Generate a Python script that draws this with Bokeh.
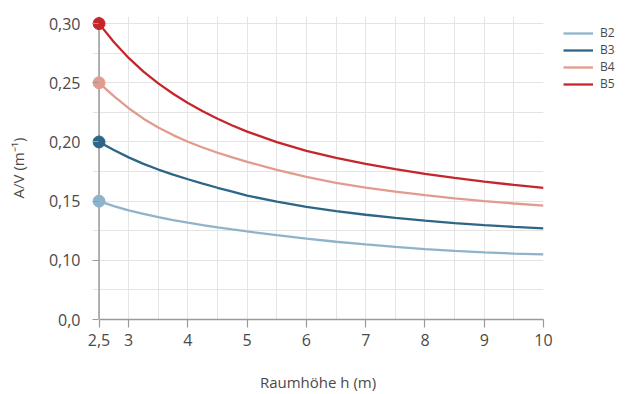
from bokeh.plotting import figure
from bokeh.models import FixedTicker, Legend, LegendItem, Range1d, Span
from bokeh.embed import file_html
from bokeh.resources import INLINE

# data
h = [2.5, 2.75, 3, 3.25, 3.5, 3.75, 4, 4.25, 4.5, 4.75, 5, 5.5, 6, 6.5, 7, 7.5, 8, 8.5, 9, 9.5, 10]
b2 = [0.1500, 0.1458, 0.1422, 0.1392, 0.1365, 0.1340, 0.1318, 0.1298, 0.1279, 0.1261, 0.1244,
      0.1212, 0.1183, 0.1157, 0.1134, 0.1113, 0.1095, 0.1080, 0.1067, 0.1057, 0.1050]
b3 = [0.2000, 0.1932, 0.1870, 0.1815, 0.1767, 0.1724, 0.1685, 0.1648, 0.1613, 0.1580, 0.1547,
      0.1495, 0.1452, 0.1415, 0.1385, 0.1358, 0.1335, 0.1315, 0.1298, 0.1283, 0.1270]
b4 = [0.2500, 0.2387, 0.2285, 0.2197, 0.2122, 0.2058, 0.2002, 0.1953, 0.1909, 0.1869, 0.1832,
      0.1765, 0.1705, 0.1655, 0.1614, 0.1580, 0.1550, 0.1524, 0.1501, 0.1480, 0.1462]
b5 = [0.3000, 0.2845, 0.2710, 0.2595, 0.2495, 0.2407, 0.2329, 0.2259, 0.2196, 0.2139, 0.2087,
      0.1998, 0.1925, 0.1865, 0.1814, 0.1770, 0.1731, 0.1696, 0.1665, 0.1637, 0.1612]
series_names = ["B2", "B3", "B4", "B5"]
series_colors = ["#8fb3cb", "#2d6687", "#e19c8e", "#c4272b"]

x_ticks = [2.5, 3, 4, 5, 6, 7, 8, 9, 10]
x_tick_labels = ["2,5", "3", "4", "5", "6", "7", "8", "9", "10"]
y_ticks = [0.05, 0.10, 0.15, 0.20, 0.25, 0.30]
y_tick_labels = ["0,0", "0,10", "0,15", "0,20", "0,25", "0,30"]
x_grid = [2.5 + 0.5 * i for i in range(16)]
y_grid = [0.05 + 0.025 * i for i in range(11)]
x_title = "Raumhöhe h (m)"
y_title = "A/V (m⁻¹)"

FONT = "Open Sans"
TXT = "#4a4a4a"
AXC = "#9a9a9a"

p = figure(width=636, height=392, output_backend="svg", toolbar_location=None,
           x_range=Range1d(2.39, 10.0), y_range=Range1d(0.05, 0.306),
           min_border_left=92, min_border_top=16, min_border_right=93, min_border_bottom=73,
           frame_width=451, frame_height=303)
p.outline_line_color = None
p.background_fill_color = "white"
p.border_fill_color = "white"

# grids
p.xgrid.ticker = FixedTicker(ticks=x_grid)
p.ygrid.ticker = FixedTicker(ticks=y_grid)
p.xgrid.bounds = (y_ticks[0], y_ticks[-1])
p.ygrid.bounds = (x_ticks[0], x_ticks[-1])
p.grid.grid_line_color = "#e4e4e4"
p.grid.grid_line_width = 1

# axes
xa = p.xaxis[0]
xa.ticker = FixedTicker(ticks=x_ticks)
xa.major_label_overrides = dict(zip(x_ticks, x_tick_labels))
xa.bounds = (x_ticks[0], x_ticks[-1])
xa.major_tick_in = 0
xa.major_tick_out = 8
xa.major_label_standoff = 6
xa.axis_line_color = AXC
xa.axis_label = x_title
xa.axis_label_standoff = 23

ya = p.yaxis[0]
ya.ticker = FixedTicker(ticks=y_ticks)
ya.major_label_overrides = dict(zip(y_ticks, y_tick_labels))
ya.axis_line_color = None
ya.major_tick_in = 6
ya.major_tick_out = 0
ya.major_label_standoff = 12
ya.axis_label = y_title
ya.axis_label_standoff = 18

for ax in (xa, ya):
    ax.minor_tick_line_color = None
    ax.axis_line_width = 1.5
    ax.major_tick_line_color = AXC
    ax.major_tick_line_width = 1.2
    ax.major_label_text_font = FONT
    ax.major_label_text_font_size = "16px"
    ax.major_label_text_color = TXT
    ax.axis_label_text_font = FONT
    ax.axis_label_text_font_size = "15px"
    ax.axis_label_text_font_style = "normal"
    ax.axis_label_text_color = TXT

# vertical axis line at h = 2.5 (below the curves and dots)
p.add_layout(Span(location=x_ticks[0], dimension="height", line_color=AXC, line_width=1.5,
                  level="underlay"))

series = [b2, b3, b4, b5]
items = []
for name, col, ys in zip(series_names, series_colors, series):
    r = p.line(h, ys, line_color=col, line_width=2.3)
    p.scatter([h[0]], [ys[0]], size=12, fill_color=col, line_color=col)
    items.append(LegendItem(label=name, renderers=[r]))

legend = Legend(items=items, location=(20, 227), margin=0, padding=0,
                glyph_width=30, glyph_height=16, label_height=16, spacing=0,
                label_standoff=7, label_text_font=FONT, label_text_font_size="12px",
                label_text_color=TXT, border_line_color=None, background_fill_alpha=0)
p.add_layout(legend, "right")

open("out.html", "w").write(file_html(p, INLINE))
